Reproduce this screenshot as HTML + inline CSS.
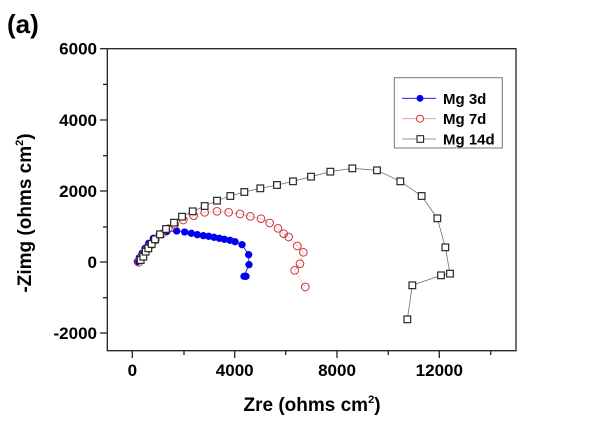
<!DOCTYPE html>
<html><head><style>
html,body{margin:0;padding:0;background:#fff;}
svg{display:block;font-family:"Liberation Sans",Arial,sans-serif;font-weight:bold;}
</style></head><body>
<svg width="600" height="421" viewBox="0 0 600 421" xmlns="http://www.w3.org/2000/svg">
<text x="7" y="33" font-size="26">(a)</text>
<rect x="107.3" y="48.7" width="408.7" height="302" fill="none" stroke="#222" stroke-width="1.3"/>
<g stroke="#222" stroke-width="1.3">
<line x1="100" y1="48.7" x2="107" y2="48.7"/><line x1="103" y1="84.4" x2="107" y2="84.4"/>
<line x1="100" y1="120" x2="107" y2="120"/><line x1="103" y1="155.7" x2="107" y2="155.7"/>
<line x1="100" y1="191" x2="107" y2="191"/><line x1="103" y1="227" x2="107" y2="227"/>
<line x1="100" y1="262" x2="107" y2="262"/><line x1="103" y1="297.7" x2="107" y2="297.7"/>
<line x1="100" y1="333" x2="107" y2="333"/>
<line x1="132.3" y1="351" x2="132.3" y2="358"/><line x1="184" y1="351" x2="184" y2="355"/>
<line x1="234.7" y1="351" x2="234.7" y2="358"/><line x1="285.7" y1="351" x2="285.7" y2="355"/>
<line x1="337" y1="351" x2="337" y2="358"/><line x1="388.3" y1="351" x2="388.3" y2="355"/>
<line x1="439.3" y1="351" x2="439.3" y2="358"/><line x1="490.7" y1="351" x2="490.7" y2="355"/>
</g>
<g font-size="17" text-anchor="end">
<text x="97" y="54.5">6000</text><text x="97" y="126">4000</text><text x="97" y="197">2000</text>
<text x="97" y="268">0</text><text x="97" y="339">-2000</text>
</g>
<g font-size="17" text-anchor="middle">
<text x="132.3" y="376">0</text><text x="234.7" y="376">4000</text><text x="337" y="376">8000</text><text x="439.3" y="376">12000</text>
</g>
<text x="312" y="411" font-size="19" text-anchor="middle">Zre (ohms cm<tspan font-size="11" dy="-8">2</tspan><tspan dy="8">)</tspan></text>
<text transform="translate(31 213) rotate(-90)" font-size="19" text-anchor="middle">-Zimg (ohms cm<tspan font-size="11" dy="-8">2</tspan><tspan dy="8">)</tspan></text>
<g transform="translate(100 30) scale(0.33333)">
<polyline fill="none" stroke="#777" stroke-width="2.5" points="122,690 130,680 137,665 145,655 155,642 165,628 180,613 198,597 222,578 246,560 278,544 314,528 351,512 391,498 433,486 481,475 531,465 579,454 633,440 691,425 757,415 831,421 901,454 965,498 1012,565 1036,652 1050,731 1023,736 937,766 922,868"/>
<polyline fill="none" stroke="#e09090" stroke-width="2.5" stroke-dasharray="4 4" points="116,697 122,685 130,672 140,658 152,645 166,630 185,612 205,596 224,583 250,570 281,557 314,547 351,544 386,547 420,552 451,559 483,566 509,579 534,595 551,611 566,621 592,648 610,667 600,701 584,721 616,771"/>
<polyline fill="none" stroke="#0000ee" stroke-width="2.5" points="112,695 118,683 126,670 135,655 146,640 160,625 178,612 200,605 230,603 254,606 274,610 292,614 310,617 326,619 342,622 358,625 373,628 390,631 405,635 426,644 446,674 447,704 432,739 438,739"/>
<g fill="#0000ee">
<circle cx="112" cy="695" r="11"/><circle cx="118" cy="683" r="11"/><circle cx="126" cy="670" r="11"/><circle cx="135" cy="655" r="11"/><circle cx="146" cy="640" r="11"/><circle cx="160" cy="625" r="11"/><circle cx="178" cy="612" r="11"/><circle cx="200" cy="605" r="11"/><circle cx="230" cy="603" r="11"/><circle cx="254" cy="606" r="11"/><circle cx="274" cy="610" r="11"/><circle cx="292" cy="614" r="11"/><circle cx="310" cy="617" r="11"/><circle cx="326" cy="619" r="11"/><circle cx="342" cy="622" r="11"/><circle cx="358" cy="625" r="11"/><circle cx="373" cy="628" r="11"/><circle cx="390" cy="631" r="11"/><circle cx="405" cy="635" r="11"/><circle cx="426" cy="644" r="11"/><circle cx="446" cy="674" r="11"/><circle cx="447" cy="704" r="11"/><circle cx="432" cy="739" r="11"/><circle cx="438" cy="739" r="11"/>
</g>
<g fill="none" stroke="#cc3333" stroke-width="3">
<circle cx="116" cy="697" r="11.5"/><circle cx="122" cy="685" r="11.5"/><circle cx="130" cy="672" r="11.5"/><circle cx="140" cy="658" r="11.5"/><circle cx="152" cy="645" r="11.5"/><circle cx="166" cy="630" r="11.5"/><circle cx="185" cy="612" r="11.5"/><circle cx="205" cy="596" r="11.5"/><circle cx="224" cy="583" r="11.5"/><circle cx="250" cy="570" r="11.5"/><circle cx="281" cy="557" r="11.5"/><circle cx="314" cy="547" r="11.5"/><circle cx="351" cy="544" r="11.5"/><circle cx="386" cy="547" r="11.5"/><circle cx="420" cy="552" r="11.5"/><circle cx="451" cy="559" r="11.5"/><circle cx="483" cy="566" r="11.5"/><circle cx="509" cy="579" r="11.5"/><circle cx="534" cy="595" r="11.5"/><circle cx="551" cy="611" r="11.5"/><circle cx="566" cy="621" r="11.5"/><circle cx="592" cy="648" r="11.5"/><circle cx="610" cy="667" r="11.5"/><circle cx="600" cy="701" r="11.5"/><circle cx="584" cy="721" r="11.5"/><circle cx="616" cy="771" r="11.5"/>
</g>
<g fill="#fff" stroke="#222" stroke-width="3.5">
<rect x="112" y="680" width="20" height="20"/><rect x="120" y="670" width="20" height="20"/><rect x="127" y="655" width="20" height="20"/><rect x="135" y="645" width="20" height="20"/><rect x="145" y="632" width="20" height="20"/><rect x="155" y="618" width="20" height="20"/><rect x="170" y="603" width="20" height="20"/><rect x="188" y="587" width="20" height="20"/><rect x="212" y="568" width="20" height="20"/><rect x="236" y="550" width="20" height="20"/><rect x="268" y="534" width="20" height="20"/><rect x="304" y="518" width="20" height="20"/><rect x="341" y="502" width="20" height="20"/><rect x="381" y="488" width="20" height="20"/><rect x="423" y="476" width="20" height="20"/><rect x="471" y="465" width="20" height="20"/><rect x="521" y="455" width="20" height="20"/><rect x="569" y="444" width="20" height="20"/><rect x="623" y="430" width="20" height="20"/><rect x="681" y="415" width="20" height="20"/><rect x="747" y="405" width="20" height="20"/><rect x="821" y="411" width="20" height="20"/><rect x="891" y="444" width="20" height="20"/><rect x="955" y="488" width="20" height="20"/><rect x="1002" y="555" width="20" height="20"/><rect x="1026" y="642" width="20" height="20"/><rect x="1040" y="721" width="20" height="20"/><rect x="1013" y="726" width="20" height="20"/><rect x="927" y="756" width="20" height="20"/><rect x="912" y="858" width="20" height="20"/>
</g>
</g>
<rect x="394.3" y="77.7" width="108" height="70.3" fill="#fff" stroke="#777" stroke-width="1"/>
<line x1="402" y1="98.3" x2="436" y2="98.3" stroke="#0000ee" stroke-width="0.8"/>
<circle cx="420" cy="98.3" r="3.4" fill="#0000ee"/>
<line x1="402" y1="118.7" x2="436" y2="118.7" stroke="#e09090" stroke-width="0.8"/>
<circle cx="420" cy="118.7" r="3.5" fill="#fff" stroke="#cc3333" stroke-width="1"/>
<line x1="402" y1="139" x2="436" y2="139" stroke="#777" stroke-width="0.8"/>
<rect x="417" y="135.7" width="6.6" height="6.6" fill="#fff" stroke="#222" stroke-width="1.1"/>
<g font-size="15">
<text x="443" y="103.8">Mg 3d</text><text x="443" y="124.2">Mg 7d</text><text x="443" y="144.6">Mg 14d</text>
</g>
</svg>
</body></html>
